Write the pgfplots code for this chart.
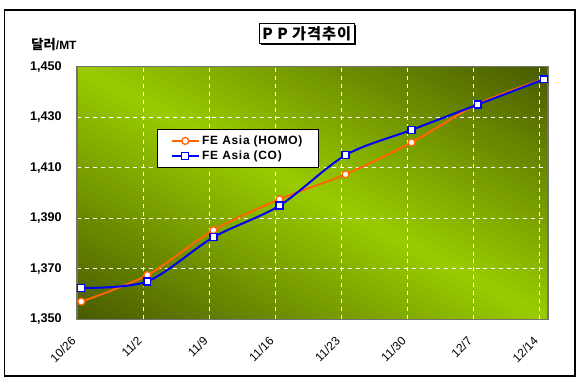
\documentclass[border=0pt]{standalone}
\usepackage{fontspec}
\setmainfont{Liberation Sans}
\newfontfamily\kr[LetterSpace=6]{Noto Sans CJK KR}
\newfontfamily\krl{Noto Sans CJK KR}
\newfontfamily\legfont[LetterSpace=6]{Liberation Sans}
\usepackage{pgfplots}
\pgfplotsset{compat=1.18}
\definecolor{bgdark}{HTML}{485A00}
\definecolor{bglight}{HTML}{9ACC00}
\definecolor{homo}{HTML}{FF6600}
\definecolor{co}{HTML}{0000FF}
\begin{document}
\begin{tikzpicture}[x=1bp,y=1bp]
\useasboundingbox (0,0) rectangle (435.75,288.75);
\draw[line width=1.1bp] (3.4,6.6) rectangle (431.4,281.2);
% plot-area background: diagonal gradient, dark at lower-left and upper-right corners
\begin{scope}[shift={(57.75,49.3)}, x=353.25bp, y=189.4bp]
\clip (0,0) rectangle (1,1);
\foreach \i in {0,...,59}{
  \pgfmathsetmacro\aa{2*\i/60}
  \pgfmathsetmacro\bb{2*(\i+1)/60+0.01}
  \pgfmathsetmacro\tt{100*(1-abs(2*(\i+0.5)/60-1))}
  \fill[bglight!\tt!bgdark] (\aa+1,-1) -- (-1,\aa+1) -- (-1,\bb+1) -- (\bb+1,-1) -- cycle;
}
\end{scope}
% title box with shadow
\fill[black] (195.75,255) rectangle (267,270);
\node[draw=black, fill=white, line width=0.75bp, minimum width=71.25bp, minimum height=15bp, inner sep=0pt] at (230.1,263.5) {\kr\bfseries\fontsize{11.5}{12}\selectfont P P 가격추이};
\node at (40.5,255.5) {\krl\bfseries\fontsize{10}{11}\selectfont 달러\rmfamily\bfseries\fontsize{9}{10}\selectfont/MT};
\begin{axis}[
  at={(57.75bp,49.3bp)}, anchor=south west,
  scale only axis, width=353.25bp, height=189.4bp,
  xmin=-0.065, xmax=7.065, ymin=1350, ymax=1450,
  ytick={1350,1370,1390,1410,1430,1450},
  xtick={-0.065,0.935,1.935,2.935,3.935,4.935,5.935,6.935},
  xticklabels={10/26,11/2,11/9,11/16,11/23,11/30,12/7,12/14},
  major tick length=0pt,
  grid=major,
  grid style={white, dashed, line width=0.75bp},
  axis line style={gray!90!black, line width=1.1bp},
  /pgf/number format/assume math mode=true,
  /pgf/number format/1000 sep={,},
  scaled y ticks=false,
  yticklabel style={font=\bfseries\fontsize{9.5}{11}\selectfont, xshift=-8bp},
  xticklabel style={font=\fontsize{9}{10}\selectfont, xshift=-5bp, yshift=-7.5bp, rotate=45, anchor=north east},
  clip=false,
  legend style={at={(0.17,0.753)}, anchor=north west, draw=black, line width=0.75bp, fill=white,
    font=\legfont\bfseries\fontsize{9}{10}\selectfont, inner xsep=10bp, inner ysep=2.5bp, row sep=-0.5bp},
  legend cell align=left,
  legend image code/.code={\draw[mark repeat=2,mark phase=2] plot coordinates {(0bp,0bp) (10bp,0bp) (20bp,0bp)};},
]
\addplot[homo, line width=1.5bp, smooth, tension=0.5, mark=*, mark size=2.6bp, mark options={fill=white, draw=homo, line width=1bp, solid}]
  coordinates {(0,1357) (1,1367.5) (2,1385.3) (3,1397.5) (4,1407.4) (5,1420) (6,1435.2) (7,1445.2)};
\addlegendentry{FE Asia (HOMO)}
\addplot[co, line width=1.5bp, smooth, tension=0.5, mark=square*, mark size=2.6bp, mark options={fill=white, draw=co, line width=1bp, solid}]
  coordinates {(0,1362.4) (1,1365) (2,1382.5) (3,1395) (4,1415) (5,1425) (6,1435) (7,1445)};
\addlegendentry{FE Asia (CO)}
\end{axis}
\end{tikzpicture}
\end{document}
